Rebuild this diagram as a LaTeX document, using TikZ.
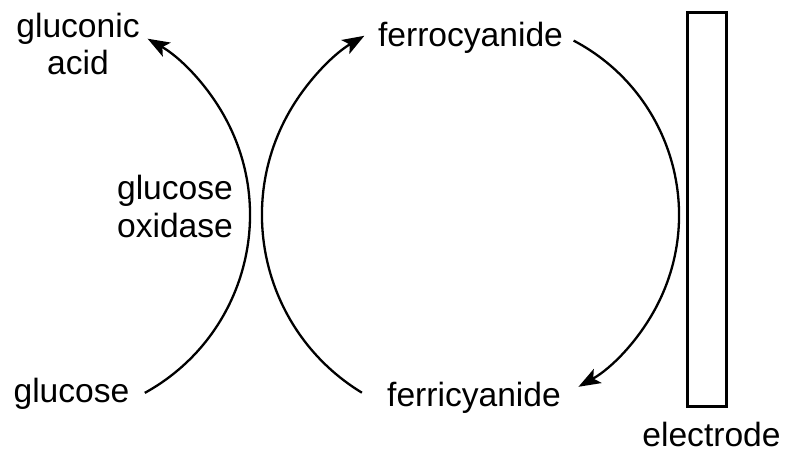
\documentclass[tikz,border=0pt]{standalone}
\usepackage{fontspec}
\setmainfont{Liberation Sans}
\usetikzlibrary{arrows.meta}
\begin{document}
\begin{tikzpicture}[x=1pt,y=1pt,
  lbl/.style={font=\fontsize{33.6}{38}\selectfont, inner sep=0pt},
  lbl2/.style={lbl, align=center},
  arr/.style={line width=2.3pt, -{Stealth[length=22pt,width=16pt,inset=5pt]}}]
\useasboundingbox (0,0) rectangle (785,454);
% labels
\node[lbl, anchor=base] (gluc) at (71.5,51) {glucose};
\node[lbl, anchor=base] (ferri) at (474,47) {ferricyanide};
\node[lbl, anchor=base] (ferro) at (470.5,407) {ferrocyanide};
\node[lbl, anchor=base] (elec) at (711.5,7.5) {electrode};
\node[lbl2] (gacid) at (78,410) {gluconic\\acid};
\node[lbl2] (gox) at (175,247.5) {glucose\\oxidase};
% electrode
\node[draw, line width=2.3pt, minimum width=39pt, minimum height=394pt, inner sep=0pt] (rod) at (707,244.5) {};
% arcs
\coordinate (a1) at (144.8,61.1);
\draw[arr] (a1) arc[start angle=-61.2, end angle=60.3, radius=203];
\coordinate (a2) at (361.9,61.3);
\draw[arr] (a2) arc[start angle=238.7, end angle=120.5, radius=208];
\coordinate (a3) at (573.6,413.4);
\draw[arr] (a3) arc[start angle=62.3, end angle=-60.7, radius=197];
\end{tikzpicture}
\end{document}
